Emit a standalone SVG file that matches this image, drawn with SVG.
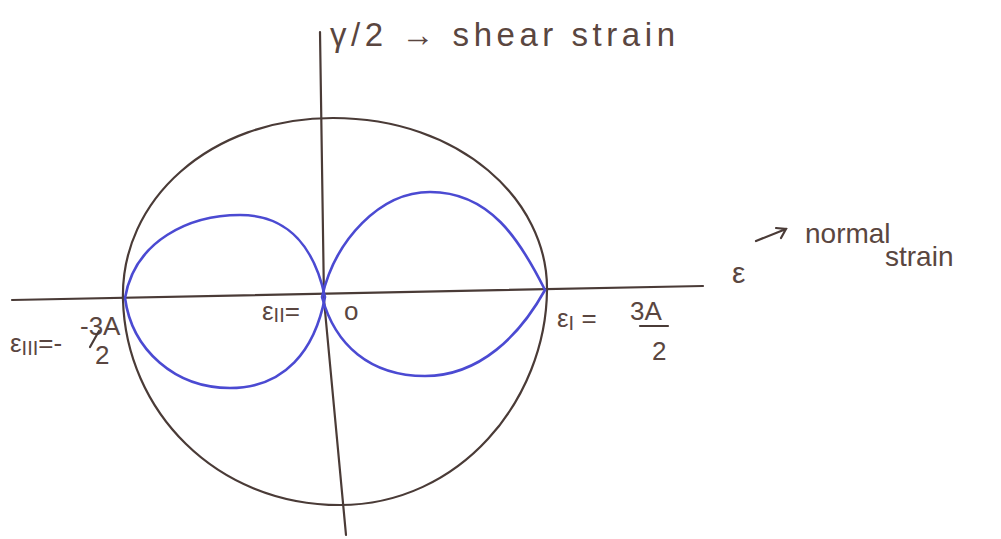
<svg xmlns="http://www.w3.org/2000/svg" width="1001" height="539" viewBox="0 0 1001 539">
<style>
.ax{stroke:#4a3b37;stroke-width:2.2;fill:none;stroke-linecap:round}
.lobe{stroke:#4b4ad2;stroke-width:2.6;fill:none}
.t{font-family:"Liberation Sans",Arial,sans-serif;fill:#5a4640;font-size:26px}
.s{font-size:20px}
</style>
<rect width="1001" height="539" fill="#fff"/>
<g id="connectors">
<path id="x-axis" class="ax" d="M12,300 L703,286"/>
<path id="y-axis" class="ax" d="M320,32 L324,300 L346,535"/>
<path id="arrow-normal" class="ax" d="M756,241 L786,229 M776,228 L786,229 L781,238"/>
</g>
<g id="circle">
<path class="ax" d="M123,300 C120,200 210,118 333,118 C460,118 548,200 547,290 C546,400 460,505 340,505 C215,505 126,410 123,300 Z"/>
</g>
<g id="lobe-left">
<path class="lobe" d="M125,298 C135,240 190,215 240,215 C290,215 315,250 325,297 C315,350 285,388 230,388 C175,388 132,350 125,298 Z"/>
</g>
<g id="lobe-right">
<path class="lobe" d="M322,297 C335,240 380,192 430,192 C490,192 520,240 545,290 C520,335 480,376 425,376 C370,376 335,345 322,297 Z"/>
</g>
<g id="label-shear">
<text class="t" x="330" y="46" style="font-size:33px" textLength="345" lengthAdjust="spacing">γ/2 → shear strain</text>
</g>
<g id="label-normal">
<text class="t" x="732" y="283" style="font-size:30px">ε</text>
<text class="t" x="805" y="243" style="font-size:28px">normal</text>
<text class="t" x="885" y="266" style="font-size:28px">strain</text>
</g>
<g id="label-e3">
<text class="t" x="10" y="352">ε<tspan class="s" dy="3">III</tspan><tspan dy="-3">=-</tspan></text>
<text class="t" x="80" y="335">-3A</text>
<path class="ax" d="M90,347 L99,331"/>
<text class="t" x="95" y="364">2</text>
</g>
<g id="label-e2">
<text class="t" x="262" y="320">ε<tspan class="s" dy="2">II</tspan><tspan dy="-2">=</tspan></text>
<text class="t" x="344" y="320">o</text>
</g>
<g id="label-e1">
<text class="t" x="557" y="327">ε<tspan class="s" dy="3">I</tspan><tspan dy="-3"> =</tspan></text>
<text class="t" x="630" y="320">3A</text>
<path class="ax" d="M640,326 L668,326"/>
<text class="t" x="652" y="360">2</text>
</g>
</svg>
